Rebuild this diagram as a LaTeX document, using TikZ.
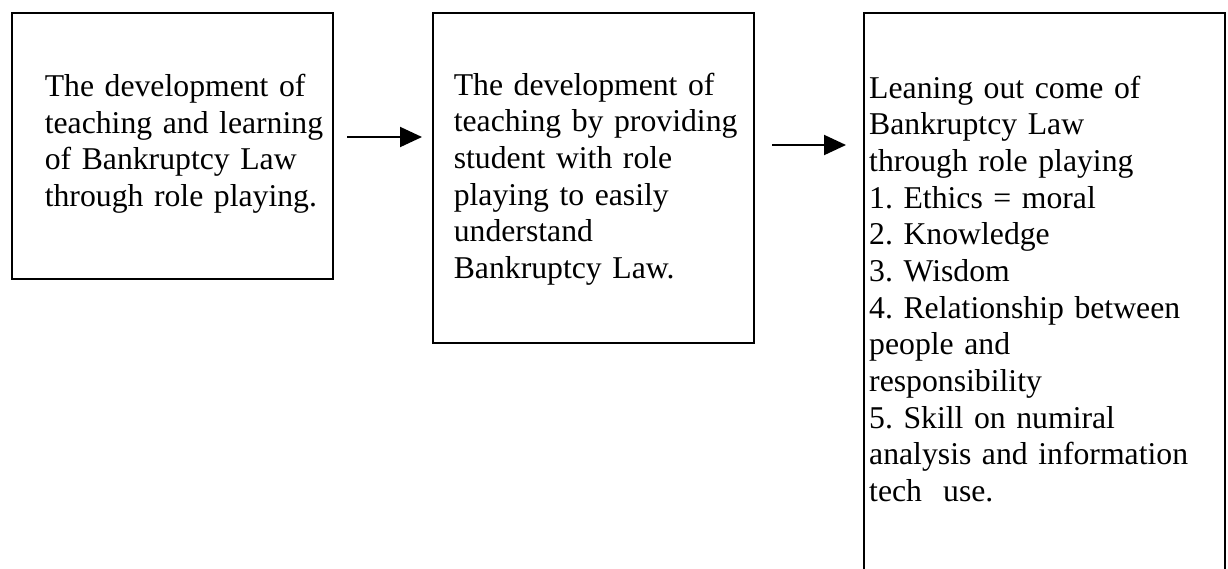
\documentclass[tikz,border=0pt]{standalone}
\usepackage{fontspec}
\setmainfont{Liberation Serif}
\usetikzlibrary{positioning,arrows.meta}
\frenchspacing

\tikzset{
	stage/.style={draw, line width=0.5pt, outer sep=0pt, anchor=north west},
	stagetext/.style={inner sep=0pt, anchor=west, align=left, text width=90pt, font=\fontsize{7.93pt}{9.17pt}\selectfont},
	flow/.style={line width=0.5pt, -{Triangle[length=5.5pt,width=5pt]}}
}

\begin{document}
\begin{tikzpicture}[x=0.25pt, y=-0.25pt]
	\clip (0, 0) rectangle (1228, 568);
	\node[stage, minimum width=80.25pt, minimum height=66.5pt] (dev) at (12, 13) {};
	\node[stage, right=25pt of dev.north east, anchor=north west, minimum width=80.25pt, minimum height=82.5pt] (teach) {};
	\node[stage, right=27.5pt of teach.north east, anchor=north west, minimum width=90.25pt, minimum height=139.75pt] (outcome) {};
	\node[stagetext] (devtext) at ([xshift=8pt, yshift=0.6pt]dev.west)
		{The development of\\teaching and learning\\of Bankruptcy Law\\through role playing.};
	\node[stagetext] (teachtext) at ([xshift=5pt, yshift=-0.3pt]teach.west)
		{The development of\\teaching by providing\\student with role\\playing to easily\\understand\\Bankruptcy Law.};
	\node[stagetext] (outcometext) at ([xshift=1.1pt, yshift=0.9pt]outcome.west)
		{Leaning out come of\\Bankruptcy Law\\through role playing\\1. Ethics = moral\\2. Knowledge\\3. Wisdom\\4. Relationship between\\people and\\responsibility\\5. Skill on numiral\\analysis and information\\tech\ \ use.};
	\draw[flow, shorten <=3.5pt, shorten >=2.75pt] (dev.east |- 0, 137) -- (teach.west |- 0, 137);
	\draw[flow, shorten <=4.5pt, shorten >=4.5pt] (teach.east |- 0, 145) -- (outcome.west |- 0, 145);
\end{tikzpicture}
\end{document}
